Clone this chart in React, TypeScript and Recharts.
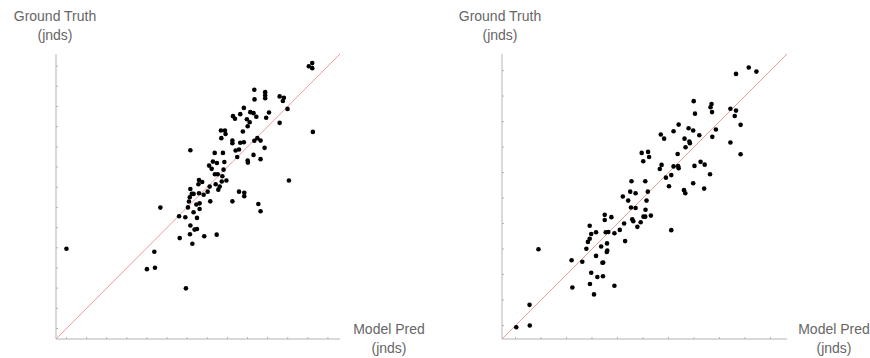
import React from 'react';
import { ScatterChart, Scatter, XAxis, YAxis, ReferenceLine } from 'recharts';

// left panel: model prediction vs ground truth (jnds)
const leftPred = [
  0, 12.22, 12.05, 12.22, 12.25, 11.06, 10.99, 10.6, 10.76, 10.6, 10.81, 10.07, 9.93, 9.88, 9.88, 9.88,
  9.34, 9.35, 9.85, 9.65, 9.49, 9.34, 9.3, 9.65, 9.44, 9.3, 9.14, 9.11, 9.01, 8.97, 8.82, 8.64, 8.77,
  8.28, 8.38, 8.25, 8.25, 8.64, 8.82, 8.58, 8.41, 8.49, 9.01, 9.02, 7.68, 7.88, 7.91, 7.7, 6.16, 7.37,
  7.78, 7.09, 7.28, 7.48, 7.85, 7.22, 7.81, 7.38, 7.52, 7.75, 7.95, 7.72, 7.42, 7.62, 7.55, 7.12, 6.59,
  6.75, 6.56, 6.16, 6.23, 6.32, 6.59, 6.82, 7.02, 6.13, 6.09, 7.15, 6.62, 6.46, 6.04, 6.62, 6.32, 5.6,
  5.91, 6.49, 4.67, 8.25, 8.58, 8.84, 8.84, 9.54, 9.65, 6.16, 6.37, 6.49, 6.85, 7.47, 6.14, 5.63, 6.26,
  4.37, 4.0, 4.4, 5.94,
];
const leftTruth = [
  3.95, 13.15, 12.99, 12.9, 9.74, 7.33, 10.88, 10.19, 11.27, 11.5, 11.43, 10.7, 10.44, 11.71, 11.55, 11.41,
  11.83, 11.35, 8.95, 9.31, 9.43, 9.3, 8.6, 8.39, 10.49, 10.67, 10.72, 10.22, 10.02, 10.37, 10.93, 10.62, 9.76,
  10.52, 10.39, 9.31, 9.18, 9.2, 9.23, 8.87, 8.82, 8.5, 8.32, 8.22, 9.81, 9.81, 9.64, 9.43, 8.83, 8.7,
  8.7, 8.07, 8.27, 8.2, 8.25, 7.91, 7.87, 7.64, 7.64, 7.54, 7.33, 7.28, 7.15, 7.03, 6.88, 7.03, 7.36,
  7.26, 7.15, 6.91, 6.67, 6.67, 6.7, 6.63, 6.78, 6.5, 6.29, 6.3, 6.2, 6.14, 6.0, 5.92, 5.76, 5.56,
  5.51, 5.48, 5.99, 6.3, 6.78, 6.72, 6.55, 6.17, 5.81, 5.1, 4.9, 4.93, 4.57, 4.65, 4.67, 4.48, 4.2,
  3.8, 2.94, 3.01, 1.99,
];

// right panel
const rightPred = [
  0.03, 0.56, 0.55, 0.9, 2.2, 2.23, 2.62, 2.78, 2.91, 2.97, 2.91, 2.84, 3.16, 3.16, 3.36, 3.41, 3.44,
  2.97, 2.92, 3.21, 3.43, 3.08, 3.88, 3.5, 3.5, 3.76, 3.54, 3.64, 3.59, 3.6, 3.58, 3.88, 4.09, 4.26,
  4.3, 4.21, 4.42, 4.5, 4.55, 4.71, 4.53, 4.71, 4.58, 4.62, 4.78, 4.91, 5.02, 5.09, 5.1, 5.14, 5.19,
  5.09, 5.31, 4.95, 5.01, 5.2, 5.24, 5.7, 5.83, 5.66, 5.73, 5.9, 6.02, 6.11, 6.11, 6.2, 6.4, 6.36,
  6.2, 6.38, 6.4, 6.61, 6.66, 6.63, 6.67, 6.79, 6.82, 6.84, 6.97, 6.99, 7.04, 7.02, 6.97, 7.21, 7.26,
  7.42, 7.4, 7.63, 7.65, 7.69, 7.71, 7.72, 7.86, 8.43, 8.65, 8.6, 8.43, 8.83, 8.83, 8.65, 9.15, 9.45,
];
const rightTruth = [
  -0.07, 0.0, 0.81, 2.99, 2.56, 1.49, 2.5, 3.01, 3.91, 3.59, 3.4, 3.28, 3.66, 2.73, 3.1, 2.46, 2.47,
  2.07, 1.63, 1.9, 1.93, 1.22, 1.56, 4.34, 4.14, 4.25, 3.66, 3.67, 3.22, 2.94, 2.88, 3.62, 3.75, 4.0,
  3.31, 5.06, 4.9, 5.25, 5.66, 5.19, 4.63, 4.61, 4.17, 4.09, 3.87, 4.05, 4.27, 4.27, 4.54, 4.9, 5.25,
  5.66, 4.31, 6.77, 6.44, 6.81, 6.61, 7.49, 7.33, 6.14, 6.3, 5.8, 5.46, 5.9, 3.74, 7.62, 7.88, 6.73,
  6.24, 6.25, 6.17, 5.31, 5.19, 7.33, 6.99, 7.74, 7.22, 7.15, 7.65, 8.8, 8.31, 6.26, 5.58, 7.46, 6.42,
  6.31, 5.37, 5.93, 8.56, 8.69, 8.37, 7.4, 7.69, 8.5, 8.43, 8.22, 7.18, 7.87, 6.72, 9.87, 10.12, 9.96,
];

const leftTicks = [0, 1, 2, 3, 4, 5, 6, 7, 8, 9, 10, 11, 12, 13];
const rightTicks = [0, 1, 2, 3, 4, 5, 6, 7, 8, 9, 10];

const zip = (xs: number[], ys: number[]) => xs.map((x, i) => ({ x, y: ys[i] }));

const axisColor = '#b4b4b4';
const labelStyle: React.CSSProperties = {
  position: 'absolute',
  fontFamily: '"Liberation Sans", Arial, sans-serif',
  fontSize: 14,
  lineHeight: '19px',
  color: '#666',
  textAlign: 'center',
  whiteSpace: 'nowrap',
};

const Dot = (p: any) => <circle cx={p.cx} cy={p.cy} r={2.3} fill="#000" />;

interface PanelProps {
  data: { x: number; y: number }[];
  lo: number;
  hi: number;
  ticks: number[];
  margin: { top: number; right: number; bottom: number; left: number };
}

const Panel: React.FC<PanelProps> = ({ data, lo, hi, ticks, margin }) => (
  <ScatterChart width={435} height={358} margin={margin}>
    <XAxis
      type="number" dataKey="x" domain={[lo, hi]} ticks={ticks} allowDataOverflow
      mirror tickFormatter={() => ''} tickSize={2} stroke={axisColor}
    />
    <YAxis
      type="number" dataKey="y" domain={[lo, hi]} ticks={ticks} allowDataOverflow
      mirror tickFormatter={() => ''} tickSize={2} stroke={axisColor}
    />
    <ReferenceLine
      segment={[{ x: lo, y: lo }, { x: hi, y: hi }]}
      stroke="#f29a9a" strokeWidth={1}
    />
    <Scatter data={data} shape={Dot} isAnimationActive={false} />
  </ScatterChart>
);

export default function App() {
  return (
    <div style={{ position: 'absolute', left: 0, top: 0, width: 870, height: 358, background: '#fff' }}>
      <div style={{ position: 'absolute', left: 0, top: 0 }}>
        <Panel data={zip(leftPred, leftTruth)} lo={-0.52} hi={13.6} ticks={leftTicks}
          margin={{ top: 54, right: 95, bottom: 19, left: 56 }} />
      </div>
      <div style={{ position: 'absolute', left: 435, top: 0 }}>
        <Panel data={zip(rightPred, rightTruth)} lo={-0.53} hi={10.65} ticks={rightTicks}
          margin={{ top: 54, right: 83, bottom: 19, left: 67 }} />
      </div>
      <div style={{ ...labelStyle, left: 0, top: 7, width: 110 }}>Ground Truth<br />(jnds)</div>
      <div style={{ ...labelStyle, left: 334, top: 320, width: 110 }}>Model Pred<br />(jnds)</div>
      <div style={{ ...labelStyle, left: 445, top: 7, width: 110 }}>Ground Truth<br />(jnds)</div>
      <div style={{ ...labelStyle, left: 779, top: 320, width: 110 }}>Model Pred<br />(jnds)</div>
    </div>
  );
}
